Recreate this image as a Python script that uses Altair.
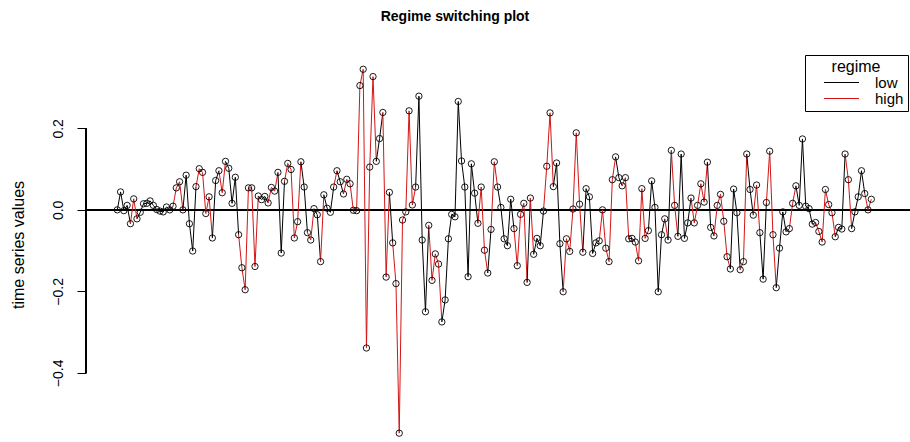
import altair as alt
import pandas as pd

# Observed series (one value per time step)
values = [
    0.000, 0.044, -0.002, 0.011, -0.034, 0.027, -0.022, -0.006, 0.015, 0.016,
    0.022, 0.011, 0.001, -0.003, -0.005, 0.007, 0.000, 0.009, 0.054, 0.069,
    0.000, 0.085, -0.034, -0.101, 0.057, 0.101, 0.092, -0.009, 0.032, -0.069,
    0.072, 0.096, 0.042, 0.119, 0.102, 0.016, 0.080, -0.061, -0.142, -0.196,
    0.054, 0.054, -0.139, 0.034, 0.025, 0.033, 0.017, 0.055, 0.046, 0.092,
    -0.106, 0.070, 0.114, 0.099, -0.069, -0.029, 0.118, 0.056, -0.056, -0.074,
    0.003, -0.012, -0.127, 0.037, 0.004, -0.006, 0.056, 0.096, 0.069, 0.039,
    0.075, 0.064, -0.001, -0.002, 0.305, 0.345, -0.339, 0.105, 0.327, 0.119,
    0.175, 0.239, -0.165, 0.043, -0.081, -0.181, -0.548, -0.025, -0.005, 0.243,
    0.012, 0.056, 0.279, -0.074, -0.250, -0.038, -0.173, -0.108, -0.133, -0.275,
    -0.221, -0.071, -0.011, -0.017, 0.266, 0.120, 0.056, -0.164, 0.113, 0.041,
    -0.033, 0.056, -0.099, -0.155, -0.048, 0.118, 0.056, 0.006, -0.071, -0.088,
    0.026, -0.046, -0.137, -0.011, 0.016, -0.178, 0.029, -0.109, -0.070, -0.088,
    -0.003, 0.107, 0.238, 0.057, 0.115, -0.083, -0.201, -0.071, -0.102, 0.002,
    0.189, 0.014, -0.104, 0.052, 0.032, -0.107, -0.081, -0.076, 0.000, -0.094,
    -0.127, 0.074, 0.130, 0.079, 0.059, 0.079, -0.071, -0.070, -0.079, -0.125,
    0.052, -0.070, -0.051, 0.071, 0.006, -0.201, -0.061, -0.022, -0.074, 0.146,
    0.011, -0.065, 0.137, -0.070, -0.032, 0.029, -0.032, 0.011, 0.064, 0.019,
    0.117, -0.043, -0.064, 0.011, 0.038, -0.028, -0.115, -0.145, 0.051, -0.007,
    -0.147, -0.127, 0.137, 0.050, -0.013, 0.061, -0.056, -0.170, 0.018, 0.144,
    -0.061, -0.191, -0.094, -0.005, -0.054, -0.046, 0.016, 0.059, 0.011, 0.174,
    0.009, 0.003, -0.035, -0.031, -0.053, -0.079, 0.050, 0.013, -0.007, -0.066,
    -0.043, -0.047, 0.137, 0.074, -0.046, -0.005, 0.032, 0.096, 0.040, 0.000,
    0.026,
]

# Regime of each step-to-step segment (0 = low, 1 = high)
segment_regime = [
    0, 0, 0, 0, 1, 1, 0, 0, 0, 0,
    0, 0, 0, 0, 0, 0, 0, 1, 1, 1,
    0, 0, 0, 0, 1, 1, 1, 1, 1, 0,
    0, 1, 1, 0, 0, 0, 0, 1, 1, 1,
    1, 1, 1, 0, 0, 0, 1, 1, 1, 0,
    0, 1, 1, 1, 1, 1, 0, 0, 1, 1,
    0, 0, 1, 0, 0, 0, 1, 0, 0, 1,
    1, 1, 0, 1, 1, 1, 1, 1, 1, 0,
    0, 1, 1, 0, 1, 1, 1, 1, 1, 1,
    1, 0, 0, 0, 0, 1, 1, 1, 1, 0,
    0, 0, 0, 0, 0, 0, 0, 0, 0, 0,
    1, 1, 1, 0, 1, 1, 0, 0, 0, 0,
    0, 1, 1, 1, 1, 0, 1, 0, 0, 0,
    1, 1, 1, 0, 0, 0, 1, 1, 1, 1,
    1, 1, 0, 0, 0, 0, 0, 1, 1, 1,
    1, 1, 0, 0, 1, 1, 0, 0, 1, 1,
    1, 1, 0, 0, 0, 0, 0, 1, 0, 1,
    1, 0, 0, 0, 0, 1, 1, 1, 1, 1,
    0, 0, 1, 1, 1, 1, 1, 0, 0, 0,
    1, 1, 0, 0, 1, 1, 0, 0, 1, 1,
    1, 0, 0, 0, 1, 1, 1, 0, 0, 0,
    0, 0, 1, 1, 1, 1, 1, 1, 1, 0,
    0, 0, 1, 1, 0, 0, 0, 0, 1, 1,
]

regime_names = ["low", "high"]
regime_colors = ["black", "#d41414"]
y_ticks = [-0.4, -0.2, 0.0, 0.2]

FONT = "Liberation Sans"

steps = list(range(1, len(values) + 1))
points = pd.DataFrame({"t": steps, "value": values})
segments = pd.DataFrame({
    "t": steps[:-1],
    "t2": steps[1:],
    "value": values[:-1],
    "value2": values[1:],
    "regime": [regime_names[r] for r in segment_regime],
})

x_scale = alt.Scale(domain=[-8.55, 242.8], nice=False, zero=False)
y_scale = alt.Scale(domain=[-0.55, 0.38], nice=False, zero=False)

y_axis = alt.Axis(
    values=y_ticks,
    format=".1f",
    labelAngle=270,
    labelFont=FONT,
    labelFontSize=14,
    labelColor="black",
    labelPadding=12,
    tickSize=9,
    tickColor="black",
    tickWidth=1,
    domain=False,
    grid=False,
    title="time series values",
    titleFont=FONT,
    titleFontSize=16,
    titleFontWeight="normal",
    titleColor="black",
    titlePadding=25,
)

x_enc = alt.X("t:Q", scale=x_scale, axis=None)
y_enc = alt.Y("value:Q", scale=y_scale, axis=y_axis)

# Coloured segments between consecutive observations
lines = alt.Chart(segments).mark_rule(strokeWidth=1).encode(
    x=x_enc,
    x2="t2:Q",
    y=y_enc,
    y2="value2:Q",
    color=alt.Color(
        "regime:N",
        scale=alt.Scale(domain=regime_names, range=regime_colors),
        legend=alt.Legend(
            orient="none",
            legendX=719,
            legendY=0,
            strokeColor="black",
            fillColor="white",
            padding=4,
            cornerRadius=0,
            title="regime",
            titleFont=FONT,
            titleFontSize=16,
            titleFontWeight="normal",
            titleColor="black",
            titleAnchor="middle",
            titlePadding=0,
            labelFont=FONT,
            labelFontSize=15,
            labelColor="black",
            labelOffset=26,
            symbolType="M-3.5,0L3.5,0",
            symbolSize=100,
            symbolOffset=25,
            symbolStrokeWidth=1,
            rowPadding=-3,
        ),
    ),
)

# Open circles at each observation
circles = alt.Chart(points).mark_point(
    shape="circle", filled=False, size=40, stroke="black", strokeWidth=0.9, opacity=1
).encode(x=x_enc, y=y_enc)

# Horizontal reference line at zero
zero_line = alt.Chart(points).mark_rule(color="black", strokeWidth=1).encode(
    y=alt.datum(0)
)

# Axis spine limited to the tick range
spine = alt.Chart(points).mark_rule(color="black", strokeWidth=1).encode(
    x=alt.value(0),
    y=alt.datum(y_ticks[0]),
    y2=alt.datum(y_ticks[-1]),
)

chart = alt.layer(zero_line, spine, lines, circles).properties(
    width=824,
    height=379,
    padding={"left": 86, "top": 55, "right": 0, "bottom": 8},
    autosize=alt.AutoSizeParams(type="none"),
    background="white",
    title=alt.TitleParams(
        "Regime switching plot",
        font=FONT,
        fontSize=14,
        fontWeight="bold",
        color="black",
        anchor="middle",
        dx=-43,
        offset=31,
    ),
).configure_view(stroke=None)

chart.save("out.html", embed_options={"renderer": "svg", "actions": False})
